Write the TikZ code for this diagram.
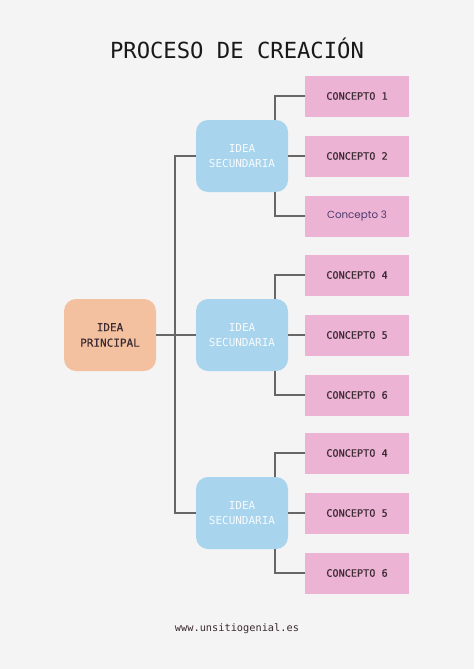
\documentclass[tikz,border=0pt]{standalone}
\usepackage{fontspec}
\setmonofont{DejaVu Sans Mono}
\newfontfamily\medmono[FakeBold=0.5]{DejaVu Sans Mono}
\newfontfamily\concfont{Poppins}
\definecolor{bgc}{HTML}{F4F4F4}
\definecolor{peach}{HTML}{F3C1A0}
\definecolor{pinkc}{HTML}{EDB3D4}
\definecolor{bluec}{HTML}{A8D4EE}
\definecolor{linec}{HTML}{666666}
\definecolor{txtc}{HTML}{3A2A32}
\definecolor{purp}{HTML}{4C3B6E}
\tikzset{
  mainbox/.style={fill=peach, rounded corners=12pt, minimum width=92pt, minimum height=72pt, align=center, text=txtc, font=\medmono\fontsize{11}{15.5}\selectfont},
  secbox/.style={fill=bluec, rounded corners=12pt, minimum width=92pt, minimum height=72pt, align=center, text=white!90!bluec, font=\ttfamily\fontsize{11}{15.5}\selectfont},
  concbox/.style={fill=pinkc, minimum width=104pt, minimum height=41pt, text=txtc, font=\medmono\fontsize{10.2}{12}\selectfont},
  conn/.style={draw=linec, line width=1.1pt},
}
\begin{document}
\begin{tikzpicture}[x=1pt,y=-1pt]
\fill[bgc] (0,0) rectangle (474,669);
\useasboundingbox (0,0) rectangle (474,669);
\node[font=\ttfamily\fontsize{22.2}{24}\selectfont, text=black!90] (title) at (237,48) {PROCESO DE CREACIÓN};
\node[mainbox] (m) at (110,335) {IDEA\\PRINCIPAL};
\node[secbox] (s1) at (242,156) {IDEA\\SECUNDARIA};
\node[secbox] (s2) at (242,335) {IDEA\\SECUNDARIA};
\node[secbox] (s3) at (242,513) {IDEA\\SECUNDARIA};
\node[concbox] (c1) at (357,96) {CONCEPTO 1};
\node[concbox] (c2) at (357,156) {CONCEPTO 2};
\node[concbox, text=purp, font=\concfont\fontsize{10.3}{12}\selectfont] (c3) at (357,216) {Concepto 3};
\node[concbox] (c4) at (357,275) {CONCEPTO 4};
\node[concbox] (c5) at (357,335) {CONCEPTO 5};
\node[concbox] (c6) at (357,395) {CONCEPTO 6};
\node[concbox] (c7) at (357,453) {CONCEPTO 4};
\node[concbox] (c8) at (357,513) {CONCEPTO 5};
\node[concbox] (c9) at (357,573) {CONCEPTO 6};
\node[font=\ttfamily\fontsize{10.3}{12}\selectfont, text=txtc] (web) at (237,629) {www.unsitiogenial.es};
\coordinate (tr) at (175,156);
\coordinate (tb) at (175,513);
% trunk
\draw[conn] (s1.west) -- (tr) -- (tb) -- (s3.west);
\draw[conn] (m.east) -- (s2.west);
% sub-branches
\foreach \s/\a/\b/\c in {s1/c1/c2/c3, s2/c4/c5/c6, s3/c7/c8/c9}{
  \draw[conn] (\a.west) -| ([xshift=33pt]\s.north);
  \draw[conn] (\c.west) -| ([xshift=33pt]\s.south);
  \draw[conn] (\s.east) -- (\b.west);
}
\end{tikzpicture}
\end{document}
